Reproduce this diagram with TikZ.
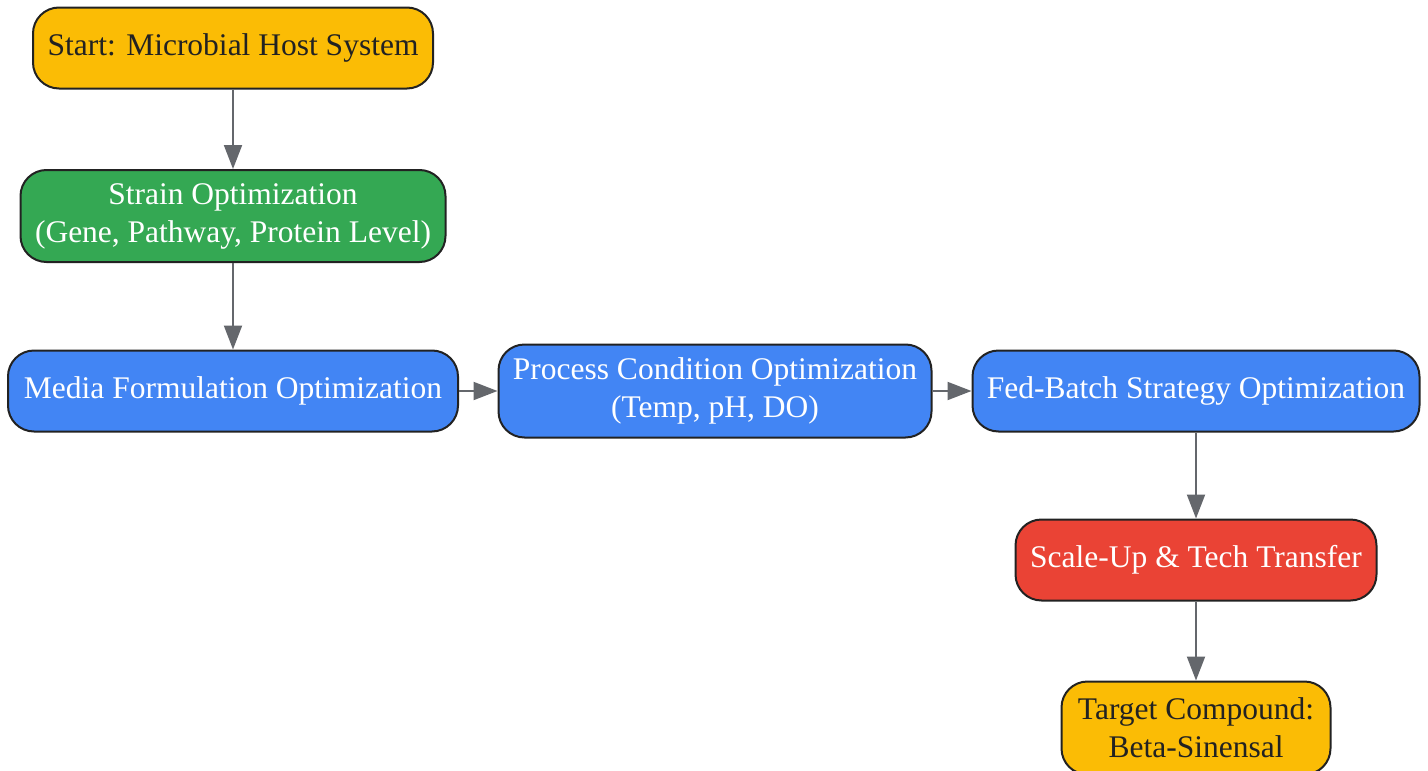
\documentclass[tikz,border=0pt]{standalone}
\usepackage{fontspec}
\setmainfont{Liberation Serif}
\usetikzlibrary{positioning, arrows.meta}

\definecolor{gyellow}{HTML}{FBBC05}
\definecolor{ggreen}{HTML}{34A853}
\definecolor{gblue}{HTML}{4285F4}
\definecolor{gred}{HTML}{EA4335}
\definecolor{edgegray}{HTML}{64676C}
\definecolor{inkdark}{HTML}{222222}

\begin{document}
\begin{tikzpicture}[x=1pt,y=1pt,on grid,
    box/.style={draw=inkdark, line width=2pt, rounded corners=26pt, align=center,
      minimum height=81pt, inner sep=4pt, font=\fontsize{31.5}{38}\selectfont,
      execute at end node={\endgraf\vspace*{-8pt}}},
    startend/.style={box, fill=gyellow, text=inkdark},
    strainbox/.style={box, fill=ggreen, text=white},
    procbox/.style={box, fill=gblue, text=white},
    scalebox/.style={box, fill=gred, text=white},
    flow/.style={color=edgegray, line width=2pt, -{Triangle[length=24pt,width=18pt]}}]
      \useasboundingbox (0,0) rectangle (1428,-771);
      \node[startend, minimum width=400pt] (start) at (233,-48) {Start: Microbial Host System};
      \node[strainbox, minimum width=425pt, minimum height=92pt] (strain) [below=168pt of start]
        {Strain Optimization\\(Gene, Pathway, Protein Level)};
      \node[procbox, minimum width=450pt] (media) [below=175pt of strain] {Media Formulation Optimization};
      \node[procbox, minimum width=433pt, minimum height=93pt] (process) [right=482pt of media]
        {Process Condition Optimization\\(Temp, pH, DO)};
      \node[procbox, minimum width=447pt] (fedbatch) [right=481pt of process] {Fed-Batch Strategy Optimization};
      \node[scalebox, minimum width=361pt] (scaleup) [below=169pt of fedbatch] {Scale-Up \& Tech Transfer};
      \node[startend, minimum width=269pt, minimum height=93pt] (target) [below=168pt of scaleup]
        {Target Compound:\\Beta-Sinensal};
      \path[every edge/.append style=flow]
      (start) edge (strain)
      (strain) edge (media)
      (media) edge (process)
      (process) edge (fedbatch)
      (fedbatch) edge (scaleup)
      (scaleup) edge (target);
    \end{tikzpicture}
\end{document}
